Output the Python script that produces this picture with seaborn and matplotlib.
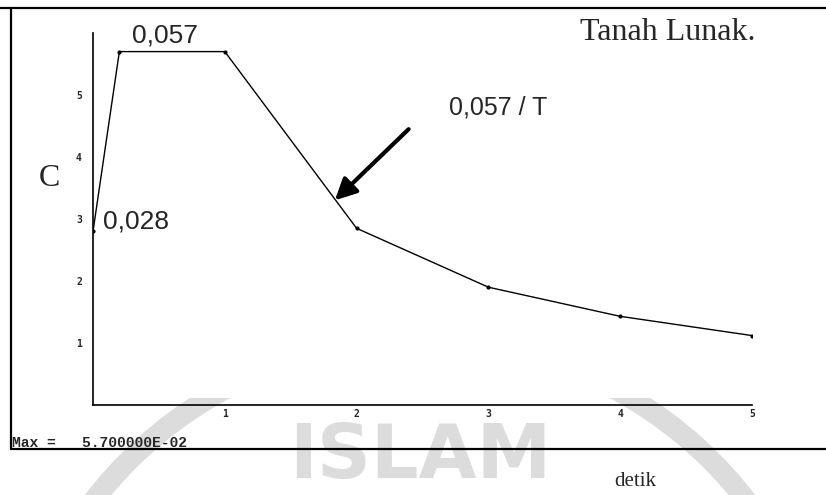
import numpy as np
import pandas as pd
import seaborn as sns
import matplotlib.pyplot as plt
from matplotlib.patches import Circle, Rectangle

# spectrum values (C x 100) against period T in detik
periods = [0.0, 0.2, 1.0, 2.0, 3.0, 4.0, 5.0]
c_values = [2.8, 5.7, 5.7, 2.85, 1.9, 1.43, 1.12]
x_ticks = [1, 2, 3, 4, 5]
y_ticks = [1, 2, 3, 4, 5, 6]
y_tick_labels = ['1', '2', '3', '4', '5', '']

df = pd.DataFrame({'T': periods, 'C': c_values})

sns.set_style("white")
plt.rcParams['font.family'] = ['DejaVu Sans']

fig = plt.figure(figsize=(8.26, 4.95), dpi=100)

# background layer in pixel units: watermark, frame and loose labels
bg = fig.add_axes([0, 0, 1, 1])
bg.set_xlim(0, 826)
bg.set_ylim(495, 0)
bg.axis('off')

wm = '#dcdcdc'
clip = Rectangle((0, 398), 826, 100, transform=bg.transData)
ring = Circle((420, 752), 412, fill=False, lw=15, color=wm, zorder=0)
bg.add_patch(ring)
ring.set_clip_path(clip)
bg.text(420, 478, 'ISLAM', fontsize=54, fontweight='bold', color=wm,
        ha='center', va='baseline', zorder=0)

# outer frame of the scanned plot
bg.plot([0, 826], [8, 8], color='black', lw=1.6, zorder=3)
bg.plot([11, 11], [8, 449], color='black', lw=1.6, zorder=3)
bg.plot([11, 826], [449, 449], color='black', lw=1.6, zorder=3)

bg.text(12, 443, 'Max =   5.700000E-02', family='Liberation Mono', fontweight='bold',
        fontsize=10.5, ha='left', va='center', zorder=3)
bg.text(668, 33, 'Tanah Lunak.', family='Liberation Serif', fontsize=23,
        ha='center', va='center')
bg.text(49, 178, 'C', family='Liberation Serif', fontsize=23, ha='center', va='center')
bg.text(635, 481, 'detik', family='Liberation Serif', fontsize=15, ha='center', va='center')
bg.text(165, 35, '0,057', family='Liberation Sans', fontsize=19, ha='center', va='center')
bg.text(136, 222, '0,028', family='Liberation Sans', fontsize=19, ha='center', va='center')
bg.text(498, 108, '0,057 / T', family='Liberation Sans', fontsize=18, ha='center', va='center')

# main plot
ax = fig.add_axes([93 / 826, 90 / 495, 659 / 826, 372 / 495])
ax.patch.set_alpha(0)
sns.lineplot(data=df, x='T', y='C', color='black', lw=1.0, marker='o',
             markersize=3, markeredgewidth=0, ax=ax)
ax.set_xlim(0, 5)
ax.set_ylim(0, 6)
ax.set_xticks(x_ticks)
ax.set_yticks(y_ticks, labels=y_tick_labels)
ax.set_xlabel('')
ax.set_ylabel('')
for s in ['top', 'right']:
    ax.spines[s].set_visible(False)
for s in ['left', 'bottom']:
    ax.spines[s].set_linewidth(1.2)
    ax.spines[s].set_color('black')
ax.tick_params(axis='both', direction='in', length=3, width=1, color='black')
ax.tick_params(axis='y', pad=8)
ax.tick_params(axis='x', pad=3)
for lab in ax.get_xticklabels() + ax.get_yticklabels():
    lab.set_family('DejaVu Sans Mono')
    lab.set_fontweight('bold')
    lab.set_fontsize(7)

ax.annotate('', xy=(1.82, 3.27), xytext=(2.41, 4.48),
            arrowprops=dict(arrowstyle='-|>', lw=3, color='black', mutation_scale=32))

fig.savefig('out.png', dpi=100)
